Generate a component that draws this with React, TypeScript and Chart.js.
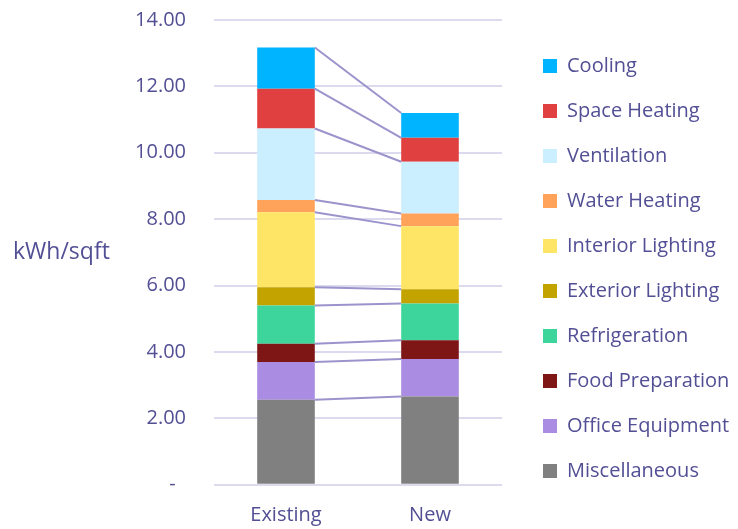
import React, { useEffect, useRef } from "react";
import { Chart, registerables } from "chart.js";

Chart.register(...registerables);

// Energy use intensity by end use, kWh per square foot
const categories = ["Existing", "New"];

const endUses = [
  "Miscellaneous",
  "Office Equipment",
  "Food Preparation",
  "Refrigeration",
  "Exterior Lighting",
  "Interior Lighting",
  "Water Heating",
  "Ventilation",
  "Space Heating",
  "Cooling",
];

const miscellaneous = [2.56, 2.66];
const officeEquipment = [1.14, 1.13];
const foodPreparation = [0.55, 0.56];
const refrigeration = [1.15, 1.11];
const exteriorLighting = [0.55, 0.43];
const interiorLighting = [2.26, 1.9];
const waterHeating = [0.37, 0.38];
const ventilation = [2.15, 1.56];
const spaceHeating = [1.2, 0.72];
const cooling = [1.24, 0.75];

const seriesValues = [
  miscellaneous,
  officeEquipment,
  foodPreparation,
  refrigeration,
  exteriorLighting,
  interiorLighting,
  waterHeating,
  ventilation,
  spaceHeating,
  cooling,
];

const seriesColors = [
  "#808080",
  "#aa8ce2",
  "#7e1616",
  "#3ed59c",
  "#c2a300",
  "#ffe566",
  "#ffa25a",
  "#ccefff",
  "#e04040",
  "#00b4ff",
];

const yTicks = [0, 2, 4, 6, 8, 10, 12, 14];

const TEXT = "#524f95";
const GRID = "#dcdaee";
const FONT = "'Open Sans', sans-serif";

// Connects the top of each stacked segment across the two bars
const seriesLines = {
  id: "seriesLines",
  afterDatasetsDraw(chart: any) {
    const ctx = chart.ctx;
    ctx.save();
    ctx.strokeStyle = "#9b94cc";
    ctx.lineWidth = 2;
    chart.data.datasets.forEach((_: any, i: number) => {
      const meta = chart.getDatasetMeta(i);
      for (let j = 0; j < meta.data.length - 1; j++) {
        const a = meta.data[j].getProps(["x", "y", "width"], true);
        const b = meta.data[j + 1].getProps(["x", "y", "width"], true);
        ctx.beginPath();
        ctx.moveTo(a.x + a.width / 2, a.y);
        ctx.lineTo(b.x - b.width / 2, b.y);
        ctx.stroke();
      }
    });
    ctx.restore();
  },
};

// Horizontal value-axis caption on the left
const axisCaption = {
  id: "axisCaption",
  afterDraw(chart: any) {
    const { ctx, chartArea } = chart;
    ctx.save();
    ctx.fillStyle = TEXT;
    ctx.font = `23px ${FONT}`;
    ctx.textAlign = "left";
    ctx.textBaseline = "middle";
    ctx.fillText("kWh/sqft", 13, (chartArea.top + chartArea.bottom) / 2);
    ctx.restore();
  },
};

// Empty axis used only to reserve space around the plot
const spacer = (position: string, size: number) => ({
  type: "category",
  position,
  display: true,
  grid: { display: false, drawTicks: false },
  border: { display: false },
  ticks: { display: false },
  afterFit: (scale: any) => {
    if (position === "top" || position === "bottom") scale.height = size;
    else scale.width = size;
  },
});

export default function App() {
  const ref = useRef<HTMLCanvasElement>(null);

  useEffect(() => {
    document.body.style.margin = "0";
    const chart = new Chart(ref.current!, {
      type: "bar",
      data: {
        labels: categories,
        datasets: endUses.map((name, i) => ({
          label: name,
          data: seriesValues[i],
          backgroundColor: seriesColors[i],
          borderWidth: 0,
          barPercentage: 0.4,
          categoryPercentage: 1,
        })),
      },
      options: {
        animation: false,
        responsive: true,
        maintainAspectRatio: false,
        devicePixelRatio: 1,
        layout: { padding: { left: 0, top: 8, bottom: 0, right: 0 } },
        plugins: {
          tooltip: { enabled: false },
          legend: {
            position: "right",
            reverse: true,
            maxWidth: 220,
            labels: {
              boxWidth: 14,
              boxHeight: 14,
              padding: 25,
              color: TEXT,
              font: { family: FONT, size: 20 },
            },
          },
        },
        scales: {
          x: {
            stacked: true,
            grid: { display: false, drawTicks: false },
            border: { display: false },
            ticks: {
              color: TEXT,
              font: { family: FONT, size: 20 },
              padding: 19,
            },
            afterFit: (scale: any) => {
              scale.height = 44.3;
            },
          },
          y: {
            stacked: true,
            min: 0,
            max: 14,
            afterBuildTicks: (scale: any) => {
              scale.ticks = yTicks.map((v) => ({ value: v }));
            },
            grid: {
              color: GRID,
              lineWidth: 2,
              drawTicks: true,
              tickLength: 25,
              tickColor: "rgba(0,0,0,0)",
            },
            border: { display: false },
            ticks: {
              color: TEXT,
              font: { family: FONT, size: 20 },
              padding: 3,
              callback: (v: any) => (Number(v) === 0 ? "-  " : Number(v).toFixed(2)),
            },
            afterFit: (scale: any) => {
              scale.width = 214;
            },
          },
          topGap: spacer("top", 12),
          rightGap: { ...spacer("right", 16), type: "linear" },
        },
      } as any,
      plugins: [seriesLines, axisCaption],
    });
    return () => chart.destroy();
  }, []);

  return (
    <div style={{ position: "fixed", left: 0, top: 0, width: 738, height: 529 }}>
      <canvas ref={ref} />
    </div>
  );
}
